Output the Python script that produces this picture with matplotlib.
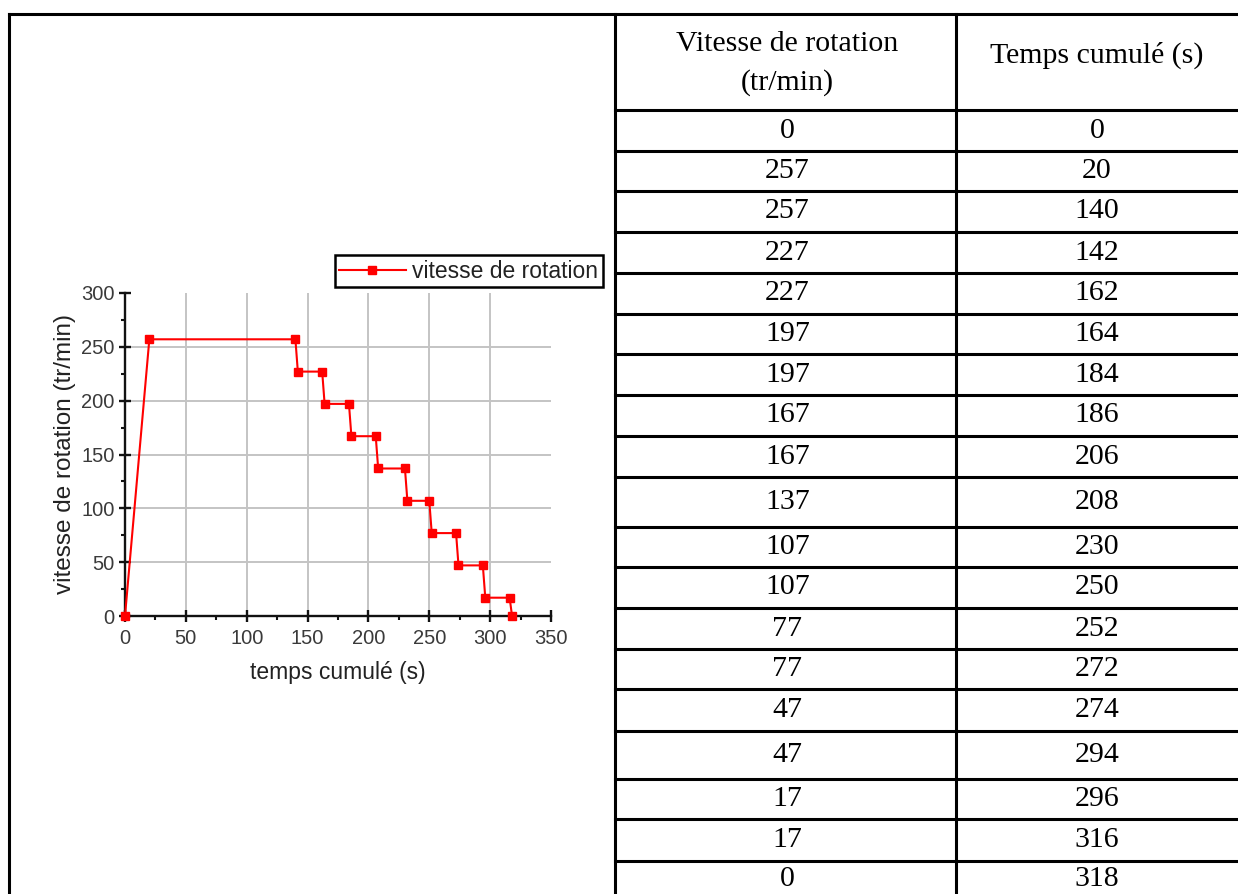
import matplotlib
matplotlib.use("Agg")
import matplotlib.pyplot as plt
from matplotlib.lines import Line2D
from matplotlib.ticker import MultipleLocator

# table values: speed (tr/min) and cumulated time (s)
vitesse = [0, 257, 257, 227, 227, 197, 197, 167, 167, 137,
           107, 107, 77, 77, 47, 47, 17, 17, 0]
temps = [0, 20, 140, 142, 162, 164, 184, 186, 206, 208,
         230, 250, 252, 272, 274, 294, 296, 316, 318]

# points of the plotted curve
courbe_temps = [0, 20, 140, 142, 162, 164, 184, 186, 206, 208,
                230, 232, 250, 252, 272, 274, 294, 296, 316, 318]
courbe_vitesse = [0, 257, 257, 227, 227, 197, 197, 167, 167, 137,
                  137, 107, 107, 77, 77, 47, 47, 17, 17, 0]

col_titles = ["Vitesse de rotation", "(tr/min)", "Temps cumulé (s)"]
x_ticks = [0, 50, 100, 150, 200, 250, 300, 350]
y_ticks = [0, 50, 100, 150, 200, 250, 300]

W, H = 1238, 894
fig = plt.figure(figsize=(W / 100, H / 100), dpi=100)

# --- table frame, drawn in pixel coordinates ---
bg = fig.add_axes([0, 0, 1, 1])
bg.set_xlim(0, W)
bg.set_ylim(H, 0)
bg.axis("off")

lw_tab = 2.2
left, col1, col2, right = 9, 615, 956, W
top = 14
row_lines = [110, 151, 191, 232, 273, 314, 354, 395, 436, 477,
             527, 567, 608, 649, 689, 731, 779, 819, 861, H]

bg.add_line(Line2D([left, right], [top, top], color="black", lw=lw_tab))
for x in (left, col1, col2):
    bg.add_line(Line2D([x, x], [top, H], color="black", lw=lw_tab))
for y in row_lines[:-1]:
    bg.add_line(Line2D([col1, right], [y, y], color="black", lw=lw_tab))

serif = ["Liberation Serif", "DejaVu Serif"]
fs_tab = 21.5
c1 = (col1 + col2) / 2 + 2
c2 = (col2 + right) / 2
bg.text(c1, 44, col_titles[0], ha="center", va="center",
        fontsize=fs_tab, family=serif)
bg.text(c1, 83, col_titles[1], ha="center", va="center",
        fontsize=fs_tab, family=serif)
bg.text(c2, 55, col_titles[2], ha="center", va="center",
        fontsize=fs_tab, family=serif)

for i, (v, t) in enumerate(zip(vitesse, temps)):
    yc = (row_lines[i] + row_lines[i + 1]) / 2
    if i == len(vitesse) - 1:
        yc = 879
    bg.text(c1, yc, str(v), ha="center", va="center", fontsize=fs_tab, family=serif)
    bg.text(c2, yc, str(t), ha="center", va="center", fontsize=fs_tab, family=serif)

# --- small chart in the left cell ---
x0, x1 = 125, 551
y0, y1 = 616, 293
ax = fig.add_axes([x0 / W, 1 - y0 / H, (x1 - x0) / W, (y0 - y1) / H])
ax.set_xlim(0, 350)
ax.set_ylim(0, 300)

for t in x_ticks[1:-1]:
    ax.axvline(t, color="#c4c4c4", lw=1.4, zorder=0)
for v in y_ticks[1:-1]:
    ax.axhline(v, color="#c4c4c4", lw=1.4, zorder=0)

ax.plot(courbe_temps, courbe_vitesse, color="#ff0000", lw=1.5, marker="s",
        ms=6, label="vitesse de rotation", zorder=3, clip_on=False)

ax.spines["top"].set_visible(False)
ax.spines["right"].set_visible(False)
for s in ("left", "bottom"):
    ax.spines[s].set_linewidth(1.7)
    ax.spines[s].set_color("#111111")

sans = ["Liberation Sans", "DejaVu Sans"]
ax.set_xticks(x_ticks)
ax.set_yticks(y_ticks)
ax.xaxis.set_minor_locator(MultipleLocator(25))
ax.yaxis.set_minor_locator(MultipleLocator(25))
ax.tick_params(which="major", direction="inout", length=9, width=1.7,
               labelsize=14.5, colors="#111111")
ax.tick_params(axis="x", which="major", pad=5)
ax.tick_params(axis="y", which="major", pad=3)
ax.tick_params(which="minor", direction="out", length=3, width=1.5,
               colors="#111111")
for lab in ax.get_xticklabels() + ax.get_yticklabels():
    lab.set_family(sans)
    lab.set_color("#3a3a3a")

ax.set_xlabel("temps cumulé (s)", fontsize=16.5, family=sans,
              color="#222222", labelpad=9)
ax.set_ylabel("vitesse de rotation (tr/min)", fontsize=17.5, family=sans,
              color="#222222", labelpad=4)

leg = ax.legend(loc="upper right", bbox_to_anchor=(603 / W, 1 - 255 / H),
                bbox_transform=fig.transFigure, borderaxespad=0,
                fancybox=False, framealpha=1, edgecolor="black",
                numpoints=1, handlelength=2.9, handletextpad=0.3,
                borderpad=0.2, prop={"family": sans, "size": 16.5})
leg.get_frame().set_linewidth(1.8)
for txt in leg.get_texts():
    txt.set_color("#222222")

fig.savefig("out.png", dpi=100)
